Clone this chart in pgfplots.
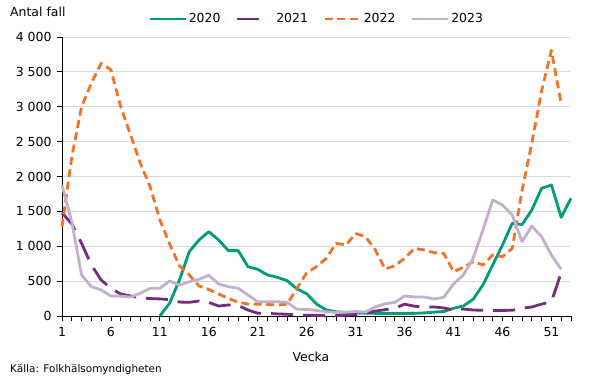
\documentclass[border=0pt]{standalone}
\usepackage{fontspec}
\setmainfont{DejaVu Sans}
\usepackage{pgfplots}
\pgfplotsset{compat=1.18}
\definecolor{c20}{HTML}{009B77}
\definecolor{c21}{HTML}{722E7E}
\definecolor{c22}{HTML}{F07328}
\definecolor{c23}{HTML}{C3B0CD}
\definecolor{gridc}{HTML}{D9D9D9}
\pgfplotsset{purplelegend/.style={legend image code/.code={\draw[##1] (0bp,0bp) -- (36bp,0bp);\fill[white] (23bp,-3bp) rectangle (36bp,3bp);}}}
\begin{document}
\begin{tikzpicture}
\path[use as bounding box, fill=white] (-62bp,-62bp) rectangle (543bp,316bp);
\begin{axis}[
  at={(0,0)}, anchor=south west,
  scale only axis, width=509bp, height=279bp,
  xmin=1, xmax=53, ymin=0, ymax=4000,
  clip=false,
  axis x line*=bottom, axis y line*=left,
  axis line style={black, line width=0.8bp},
  xtick={1,6,...,51}, minor xtick={1,...,53},
  ytick={0,500,...,4000},
  yticklabels={0,500,1 000,1 500,2 000,2 500,3 000,3 500,4 000},
  tick align=outside,
  major tick length=5bp, minor tick length=5bp,
  tick style={black, line width=0.8bp},
  ymajorgrids, grid style={gridc, line width=0.9bp},
  /pgf/number format/assume math mode=true,
  ticklabel style={font=\fontsize{12.5}{14}\selectfont},
  xticklabel style={yshift=-3bp},
  yticklabel style={xshift=-2bp},
  legend style={at={(0.5,1.0645)}, anchor=center, draw=none, fill=none,
    font=\fontsize{12.5}{14}\selectfont, legend columns=4,
    /tikz/every even column/.append style={column sep=14bp},
    nodes={inner xsep=1.5bp}},
  legend image code/.code={\draw[#1] (0bp,0bp) -- (36bp,0bp);},
  every axis plot/.append style={line width=2.8bp, line join=round},
]
\addplot[c20, solid] coordinates {
(11,0)(12,185)(13,516)(14,922)(15,1090)(16,1209)(17,1090)(18,937)(19,937)(20,707)
(21,669)(22,588)(23,554)(24,506)(25,390)(26,320)(27,172)(28,86)(29,60)(30,50)
(31,45)(32,40)(33,38)(34,38)(35,38)(36,38)(37,38)(38,45)(39,55)(40,65)
(41,110)(42,143)(43,239)(44,444)(45,731)(46,1018)(47,1329)(48,1310)(49,1520)(50,1831)
(51,1878)(52,1415)(53,1688)};
\addlegendentry{2020}
\addplot[c21, dash pattern=on 22bp off 10bp, purplelegend] coordinates {
(1,1480)(2,1320)(3,1042)(4,731)(5,516)(6,397)(7,315)(8,287)(9,260)(10,250)
(11,245)(12,235)(13,200)(14,196)(15,215)(16,195)(17,143)(18,158)(19,150)(20,86)
(21,40)(22,38)(23,30)(24,25)(25,15)(26,10)(27,8)(28,5)(29,5)(30,10)
(31,20)(32,40)(33,70)(34,90)(35,110)(36,170)(37,140)(38,130)(39,130)(40,115)
(41,86)(42,100)(43,86)(44,82)(45,80)(46,80)(47,82)(48,110)(49,130)(50,170)
(51,205)(52,620)};
\addlegendentry{2021}
\addplot[c22, dash pattern=on 8bp off 4.5bp] coordinates {
(1,1280)(2,2280)(3,3000)(4,3340)(5,3620)(6,3530)(7,3000)(8,2600)(9,2190)(10,1855)
(11,1380)(12,1030)(13,720)(14,590)(15,430)(16,380)(17,315)(18,253)(19,196)(20,172)
(21,170)(22,165)(23,158)(24,170)(25,397)(26,620)(27,707)(28,827)(29,1042)(30,1018)
(31,1180)(32,1140)(33,950)(34,674)(35,720)(36,827)(37,970)(38,946)(39,908)(40,898)
(41,636)(42,698)(43,780)(44,731)(45,875)(46,851)(47,970)(48,1800)(49,2480)(50,3230)
(51,3810)(52,3040)};
\addlegendentry{2022}
\addplot[c23, solid] coordinates {
(1,1878)(2,1350)(3,588)(4,421)(5,373)(6,287)(7,285)(8,272)(9,325)(10,397)
(11,397)(12,502)(13,444)(14,492)(15,526)(16,583)(17,459)(18,421)(19,397)(20,301)
(21,205)(22,205)(23,205)(24,196)(25,96)(26,95)(27,80)(28,60)(29,50)(30,55)
(31,65)(32,55)(33,130)(34,175)(35,195)(36,287)(37,272)(38,272)(39,244)(40,268)
(41,459)(42,588)(43,827)(44,1233)(45,1663)(46,1592)(47,1448)(48,1066)(49,1290)(50,1137)
(51,875)(52,669)};
\addlegendentry{2023}
\end{axis}
\node[anchor=west, inner sep=0pt, font=\fontsize{12.5}{14}\selectfont] at (-52bp,304bp) {Antal fall};
\node[anchor=center, inner sep=0pt, font=\fontsize{12.5}{14}\selectfont] at (249bp,-41bp) {Vecka};
\node[anchor=west, inner sep=0pt, font=\fontsize{10.5}{12}\selectfont] at (-52bp,-54bp) {Källa: Folkhälsomyndigheten};
\end{tikzpicture}
\end{document}
